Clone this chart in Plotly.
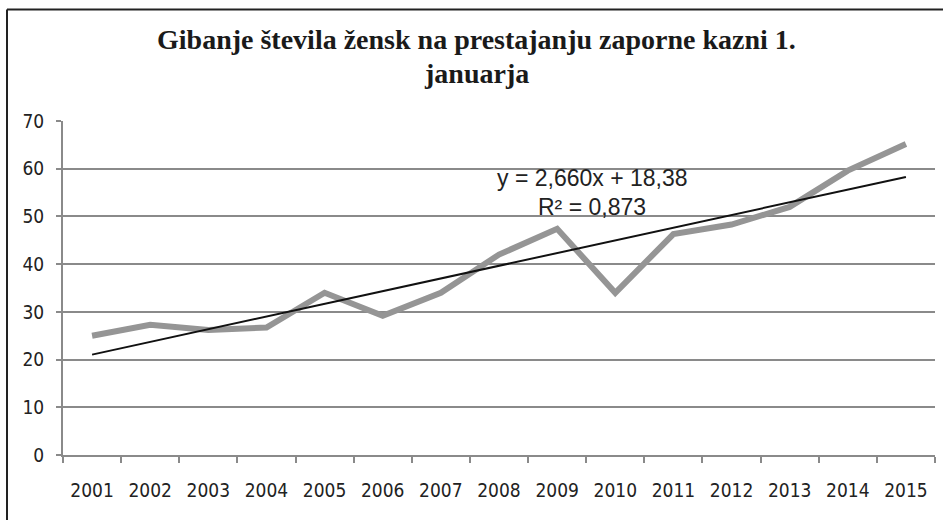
import plotly.graph_objects as go

years = ["2001", "2002", "2003", "2004", "2005", "2006", "2007", "2008",
         "2009", "2010", "2011", "2012", "2013", "2014", "2015"]
values = [25, 27.3, 26.2, 26.7, 34, 29.2, 34, 42, 47.4, 34, 46.3, 48.3, 52, 59.6, 65.2]
trend_slope = 2.660
trend_intercept = 18.38
r_squared = 0.873
y_ticks = [0, 10, 20, 30, 40, 50, 60, 70]
title_lines = ["Gibanje števila žensk na prestajanju zaporne kazni 1.", "januarja"]
equation_lines = ["y = 2,660x + 18,38", "R² = 0,873"]

trend = [trend_slope * (i + 1) + trend_intercept for i in range(len(years))]

W, H = 943, 520
L, R, T, B = 63, W - 935, 121, H - 455
pw, ph = W - L - R, H - T - B

def px(x):
    return (x - L) / pw

def py(y):
    return (H - B - y) / ph

fig = go.Figure()
fig.add_trace(go.Scatter(x=years, y=values, mode="lines",
                         line=dict(color="#959595", width=6), showlegend=False))
fig.add_trace(go.Scatter(x=years, y=trend, mode="lines",
                         line=dict(color="#111111", width=2), showlegend=False))

tick_font = dict(family="Liberation Sans Narrow, DejaVu Sans Condensed, Liberation Sans, sans-serif",
                 size=19, color="#222222")

fig.update_layout(
    width=W, height=H,
    margin=dict(l=L, r=R, t=T, b=B),
    paper_bgcolor="white", plot_bgcolor="white",
    xaxis=dict(type="category", range=[-0.5, len(years) - 0.5],
               showgrid=False, showline=True, linecolor="#8a8a8a", linewidth=2,
               ticks="outside", ticklen=6, tickcolor="#8a8a8a", tickwidth=2,
               tickson="boundaries", tickfont=tick_font, fixedrange=True,
               ticklabelstandoff=17),
    yaxis=dict(range=[0, 70], tickvals=y_ticks, showgrid=True, gridcolor="#8a8a8a",
               gridwidth=2, showline=True, linecolor="#8a8a8a", linewidth=2,
               ticks="outside", ticklen=5, tickcolor="#8a8a8a", tickwidth=2,
               zeroline=False, tickfont=tick_font, ticklabelstandoff=8, fixedrange=True),
)

title_font = dict(family="Liberation Serif, Times New Roman, serif", size=28,
                  color="#1a1a1a", weight="bold")
for text, yc in zip(title_lines, [40, 73]):
    fig.add_annotation(x=px(476), y=py(yc), xref="paper", yref="paper",
                       showarrow=False, text=text, font=title_font,
                       xanchor="center", yanchor="middle")

eq_font = dict(family="Liberation Sans, Arial, sans-serif", size=23, color="#222222")
for text, yc in zip(equation_lines, [178, 207]):
    fig.add_annotation(x=px(592), y=py(yc), xref="paper", yref="paper",
                       showarrow=False, text=text, font=eq_font,
                       xanchor="center", yanchor="middle")

# outer frame (top and left edges visible in the reference)
fig.add_shape(type="line", xref="paper", yref="paper",
              x0=px(7), x1=px(W + 5), y0=py(9.5), y1=py(9.5),
              line=dict(color="#222222", width=2))
fig.add_shape(type="line", xref="paper", yref="paper",
              x0=px(7), x1=px(7), y0=py(9.5), y1=py(H + 5),
              line=dict(color="#222222", width=2))

fig.write_html("out.html", config={"displayModeBar": False},
               post_script="document.body.style.margin='0';document.body.style.overflow='hidden';")
